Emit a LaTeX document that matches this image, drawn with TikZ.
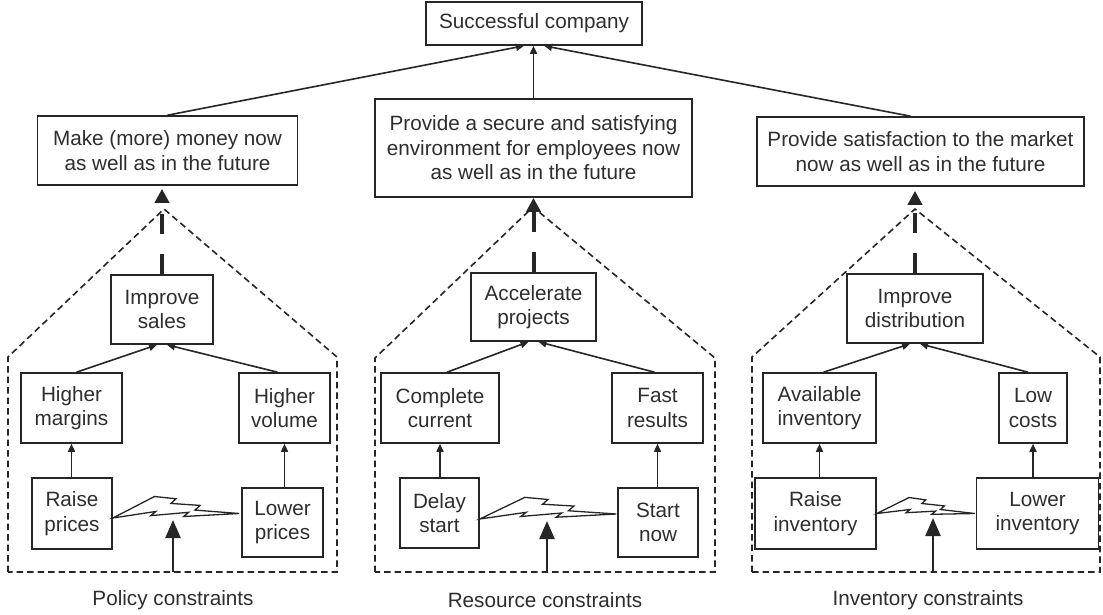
\documentclass[tikz,border=0pt]{standalone}
\usepackage{fontspec}
\setmainfont{Liberation Sans}
\usetikzlibrary{arrows.meta,calc}

\definecolor{ink}{HTML}{262626}
\definecolor{txt}{HTML}{2E2E2E}

\tikzset{
  box/.style={draw=ink, line width=1.6pt, fill=white, text=txt, align=center,
    inner sep=0pt, font=\fontsize{20.7}{24.5}\selectfont},
  caption/.style={text=txt, inner sep=0pt, font=\fontsize{20.7}{24.5}\selectfont},
  link/.style={draw=ink, line width=1.6pt, -{Triangle[length=8pt,width=7pt]}},
  goalarrow/.style={draw=ink, line width=4pt, dash pattern=on 20pt off 20pt,
    -{Triangle[length=14pt,width=14pt]}},
  conflictarrow/.style={draw=ink, line width=2.4pt, -{Triangle[length=18pt,width=15pt]}},
  cloud/.style={draw=ink, line width=1.6pt, dash pattern=on 6.5pt off 4pt, line join=miter},
  bolt/.style={draw=ink, fill=white, line width=1.3pt, line join=miter},
}

% jagged conflict symbol between two points; #3 scales its height
\newcommand{\drawbolt}[3]{%
  \draw[bolt] (#1)
    -- ($(#1)!0.33!(#2)+(0,-20*#3)$)
    -- ($(#1)!0.50!(#2)+(0,-17*#3)$)
    -- ($(#1)!0.46!(#2)+(0,-12.5*#3)$)
    -- ($(#1)!0.69!(#2)+(0,-9.5*#3)$)
    -- ($(#1)!0.65!(#2)+(0,-5*#3)$)
    -- (#2)
    -- ($(#1)!0.56!(#2)+(0,1*#3)$)
    -- ($(#1)!0.60!(#2)+(0,-3*#3)$)
    -- ($(#1)!0.30!(#2)+(0,-1*#3)$)
    -- ($(#1)!0.34!(#2)+(0,-5*#3)$)
    -- cycle;}

\begin{document}
\begin{tikzpicture}[x=1pt,y=-1pt]
\fill[white] (0,0) rectangle (1103,614);
\useasboundingbox (0,0) rectangle (1103,614);

% dashed outlines of the three conflict clouds
\draw[cloud] (8,572) -- (8,357) -- (164,209) -- (337,357) -- (337,572) -- cycle;
\draw[cloud] (375,572) -- (375,358) -- (533,207) -- (715,358) -- (715,572) -- cycle;
\draw[cloud] (752,572) -- (752,357) -- (915,209) -- (1100,357) -- (1100,572) -- cycle;

% goal and necessary conditions
\node[box, minimum width=216pt, minimum height=43pt] (top) at (534,23.5) {Successful company};
\node[box, minimum width=260pt, minimum height=69pt] (goalL) at (167.5,150.5)
  {Make (more) money now\\as well as in the future};
\node[box, minimum width=317pt, minimum height=98pt] (goalM) at (533.5,148)
  {Provide a secure and satisfying\\environment for employees now\\as well as in the future};
\node[box, minimum width=327pt, minimum height=69pt] (goalR) at (920.5,151.5)
  {Provide satisfaction to the market\\now as well as in the future};

% policy cloud
\node[box, minimum width=102pt, minimum height=69pt] (IS) at (162,309.5) {Improve\\sales};
\node[box, minimum width=101pt, minimum height=70pt] (HM) at (71.5,408) {Higher\\margins};
\node[box, minimum width=91pt, minimum height=70pt] (HV) at (284.5,408) {Higher\\volume};
\node[box, minimum width=80pt, minimum height=71pt] (RP) at (72,513.5) {Raise\\prices};
\node[box, minimum width=81pt, minimum height=69pt] (LP) at (282.5,522.5) {Lower\\prices};

% resource cloud
\node[box, minimum width=125pt, minimum height=68pt] (AP) at (533.5,307) {Accelerate\\projects};
\node[box, minimum width=118pt, minimum height=70pt] (CC) at (440,408) {Complete\\current};
\node[box, minimum width=91pt, minimum height=70pt] (FR) at (657.5,408) {Fast\\results};
\node[box, minimum width=79pt, minimum height=70pt] (DS) at (439.5,513) {Delay\\start};
\node[box, minimum width=80pt, minimum height=69pt] (SN) at (658,522.5) {Start\\now};

% inventory cloud
\node[box, minimum width=136pt, minimum height=69pt] (ID) at (915,308.5) {Improve\\distribution};
\node[box, minimum width=113pt, minimum height=70pt] (AI) at (819.5,408) {Available\\inventory};
\node[box, minimum width=68pt, minimum height=70pt] (LC) at (1033,408) {Low\\costs};
\node[box, minimum width=121pt, minimum height=71pt] (RI) at (815.5,513.5) {Raise\\inventory};
\node[box, minimum width=122pt, minimum height=71pt] (LI) at (1037.5,513.5) {Lower\\inventory};

% captions
\node[caption] (capL) at (173,600) {Policy constraints};
\node[caption] (capM) at (545,600) {Resource constraints};
\node[caption] (capR) at (928,600) {Inventory constraints};

% links to the goal
\draw[link] (goalL.north) -- ([xshift=-10pt]top.south);
\draw[link] (goalM.north) -- (goalM.north |- top.south);
\draw[link] ([xshift=-10pt]goalR.north) -- ([xshift=10pt]top.south);

% clouds feeding the necessary conditions
\draw[goalarrow, shorten >=3pt] (IS.north) -- (IS.north |- goalL.south);
\draw[goalarrow] (AP.north) -- (AP.north |- goalM.south);
\draw[goalarrow, shorten >=4pt] (ID.north) -- (ID.north |- goalR.south);

% requirements
\draw[link] ([xshift=5pt]HM.north) -- ([xshift=-5pt]IS.south);
\draw[link] ([xshift=-7pt]HV.north) -- ([xshift=5pt]IS.south);
\draw[link] (RP.north -| HM.south) -- (HM.south);
\draw[link] (LP.north -| HV.south) -- (HV.south);

\draw[link] ([xshift=7pt]CC.north) -- ([xshift=-5pt]AP.south);
\draw[link] ([xshift=-3pt]FR.north) -- ([xshift=5pt]AP.south);
\draw[link] (DS.north -| CC.south) -- (CC.south);
\draw[link] (SN.north -| FR.south) -- (FR.south);

\draw[link] ([xshift=4pt]AI.north) -- ([xshift=-5pt]ID.south);
\draw[link] ([xshift=-5pt]LC.north) -- ([xshift=5pt]ID.south);
\draw[link] (RI.north -| AI.south) -- (AI.south);
\draw[link] (LI.north -| LC.south) -- (LC.south);

% conflicts between the prerequisites
\coordinate (bL1) at ($(RP.east)+(0,4.5)$);
\coordinate (bL2) at ($(LP.west)+(-2,-9)$);
\drawbolt{bL1}{bL2}{1}
\coordinate (bM1) at ($(DS.east)+(0,6)$);
\coordinate (bM2) at ($(SN.west)+(-1,-8.5)$);
\drawbolt{bM1}{bM2}{1}
\coordinate (bR1) at (RI.east);
\coordinate (bR2) at ($(LI.west)+(-1,0)$);
\drawbolt{bR1}{bR2}{0.8}

% constraint arrows pushing into the conflicts
\coordinate (cL0) at (173,572);  \coordinate (cL1) at (173,520);
\coordinate (cM0) at (547,572);  \coordinate (cM1) at (547,521);
\coordinate (cR0) at (933,572);  \coordinate (cR1) at (933,518);
\draw[conflictarrow] (cL0) -- (cL1);
\draw[conflictarrow] (cM0) -- (cM1);
\draw[conflictarrow] (cR0) -- (cR1);
\end{tikzpicture}
\end{document}
